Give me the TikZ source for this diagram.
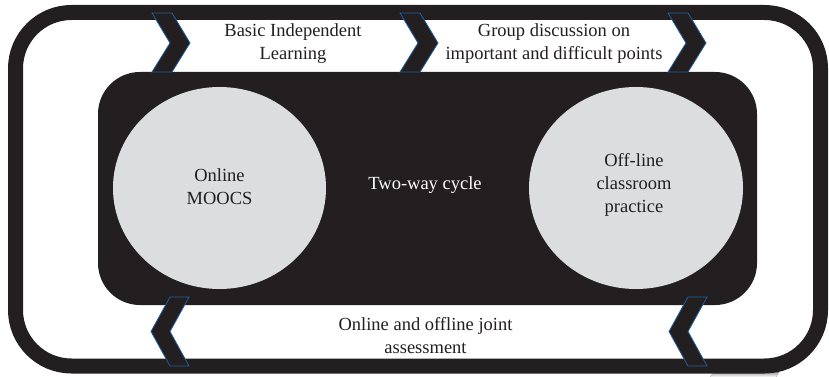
\documentclass[tikz,border=0pt]{standalone}
\usepackage{fontspec}
\setmainfont{Liberation Serif}
\usetikzlibrary{shapes.geometric}
\definecolor{ink}{HTML}{231F20}
\definecolor{disc}{HTML}{DCDDDF}
\definecolor{edge}{HTML}{1F5F9E}
\definecolor{shade}{HTML}{E6E6E6}
\begin{document}
\begin{tikzpicture}[x=1pt,y=-1pt,
  chev/.style={fill=ink,draw=edge,line width=0.8pt,line join=miter},
  lbl/.style={font=\fontsize{18.5}{23}\selectfont,align=center,text=ink,inner sep=0pt},
  disclbl/.style={font=\fontsize{18.5}{23}\selectfont,align=center,text=ink,inner sep=0pt}]
\useasboundingbox (0,0) rectangle (829,377);
\fill[white] (0,0) rectangle (829,377);
% faint shadow
\fill[shade] (710,377) -- (716,370) -- (780,370) -- (776,377) -- cycle;
% outer frame
\draw[ink,line width=15pt,rounded corners=56pt] (15.5,12.5) rectangle (820.5,366);
% inner panel
\node[fill=ink,rounded corners=42pt,minimum width=659pt,minimum height=233pt,inner sep=0pt] (panel) at (427.5,188.5) {};
% discs
\node[ellipse,fill=disc,minimum width=213pt,minimum height=202pt,inner sep=0pt] (left) at (219.5,188) {};
\node[ellipse,fill=disc,minimum width=214pt,minimum height=202pt,inner sep=0pt] (right) at (636,188) {};
\node[disclbl] (lefttxt) at (219.5,186.5) {Online\\MOOCS};
\node[disclbl] (righttxt) at (634,185) {Off-line\\classroom\\practice};
\node[lbl,text=white] (cycle) at (425,185) {Two-way cycle};
% top chevrons (pointing right)
\foreach \L/\nm in {152/c1,400/c2,668/c3}{
  \draw[chev] (\L,13) -- (\L+20,13) -- (\L+38,43) -- (\L+20,72) -- (\L,72) -- (\L+18,43) -- cycle;
}
% bottom chevrons (pointing left)
\foreach \T in {151,669}{
  \draw[chev] (\T+19,297) -- (\T+38,297) -- (\T+19,331.5) -- (\T+38,366) -- (\T+19,366) -- (\T,331.5) -- cycle;
}
% labels
\node[lbl] (basic) at (293,44) {Basic Independent\\Learning};
\node[lbl] (group) at (554,44) {Group discussion on\\important and difficult points};
\node[lbl] (joint) at (425.5,336) {Online and offline joint\\assessment};
\end{tikzpicture}
\end{document}
